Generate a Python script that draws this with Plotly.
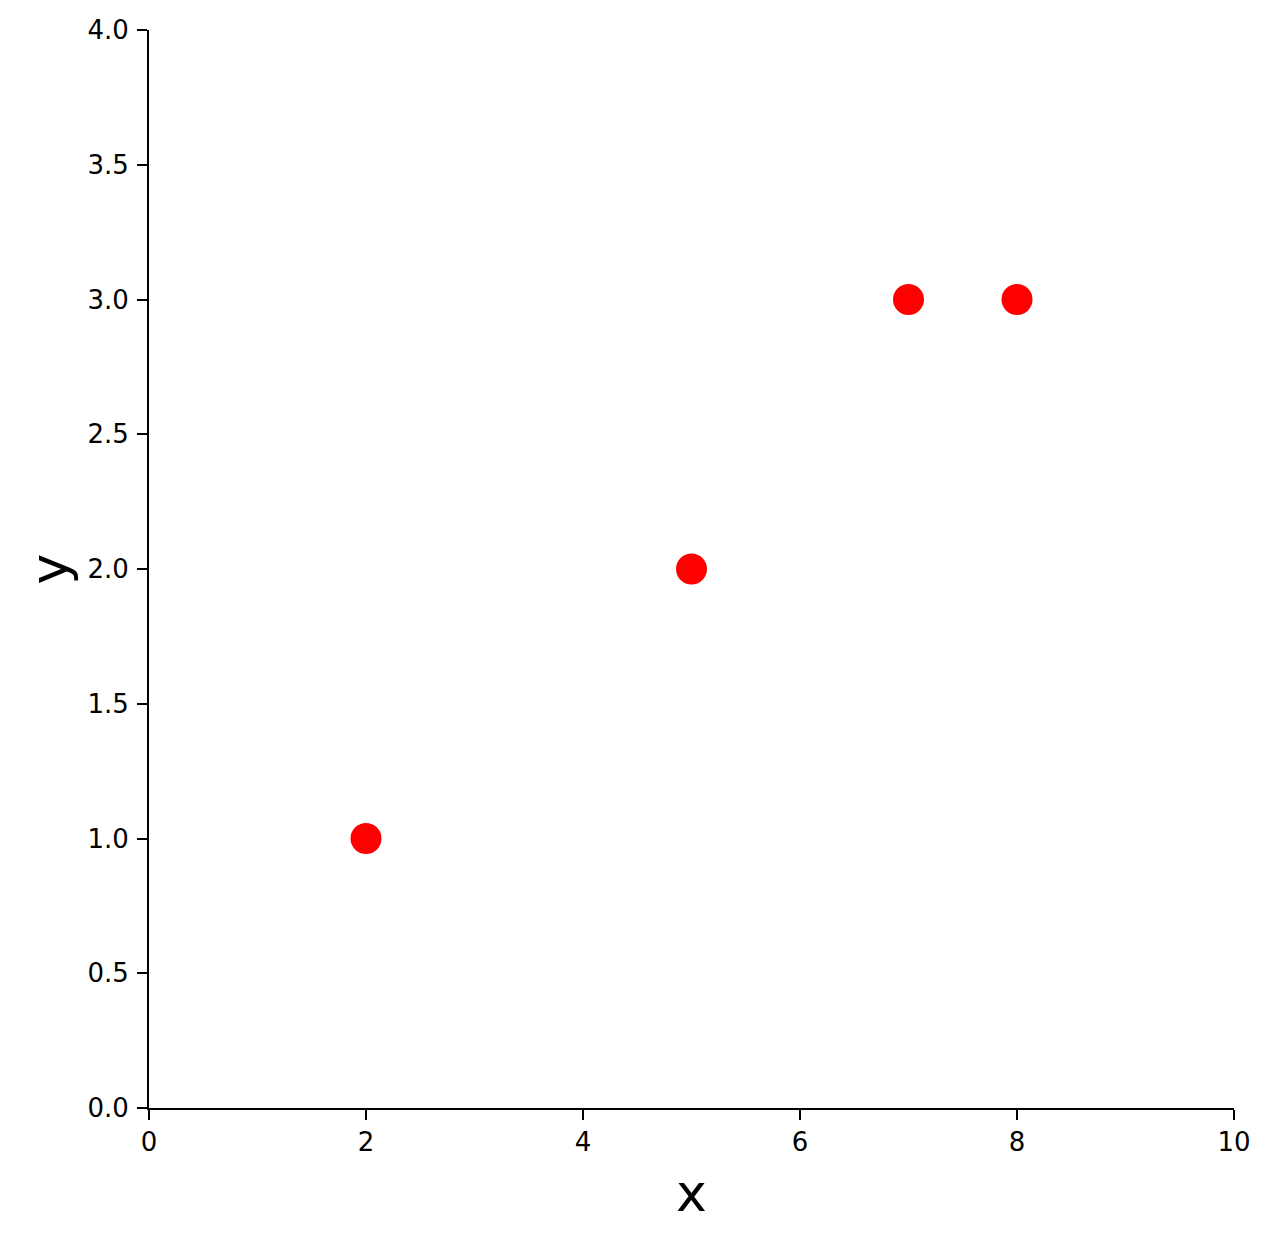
import plotly.graph_objects as go

x_vals = [2, 5, 7, 8]
y_vals = [1, 2, 3, 3]
x_ticks = [0, 2, 4, 6, 8, 10]
y_ticks = [0.0, 0.5, 1.0, 1.5, 2.0, 2.5, 3.0, 3.5, 4.0]

fig = go.Figure()
fig.add_trace(go.Scatter(
    x=x_vals, y=y_vals, mode="markers",
    marker=dict(color="red", size=31, line=dict(width=0)),
    showlegend=False,
))

axis_common = dict(
    showline=True, linecolor="black", linewidth=2,
    ticks="outside", ticklen=10, tickwidth=2, tickcolor="black",
    showgrid=False, zeroline=False, automargin=False,
    tickfont=dict(family="DejaVu Sans", size=26, color="black"),
)

fig.update_layout(
    width=1271, height=1241,
    margin=dict(l=141, r=45, t=22, b=141),
    plot_bgcolor="white", paper_bgcolor="white",
    xaxis=dict(range=[0, 10], tickvals=x_ticks, ticktext=[str(v) for v in x_ticks],
               ticklabelstandoff=0,
               title=dict(text="x", font=dict(family="DejaVu Sans", size=52, color="black"), standoff=18),
               **axis_common),
    yaxis=dict(range=[0, 4], tickvals=y_ticks, ticktext=[f"{v:.1f}" for v in y_ticks],
               ticklabelstandoff=3,
               title=dict(text="y", font=dict(family="DejaVu Sans", size=52, color="black"), standoff=3),
               **axis_common),
)

fig.write_html("out.html")
